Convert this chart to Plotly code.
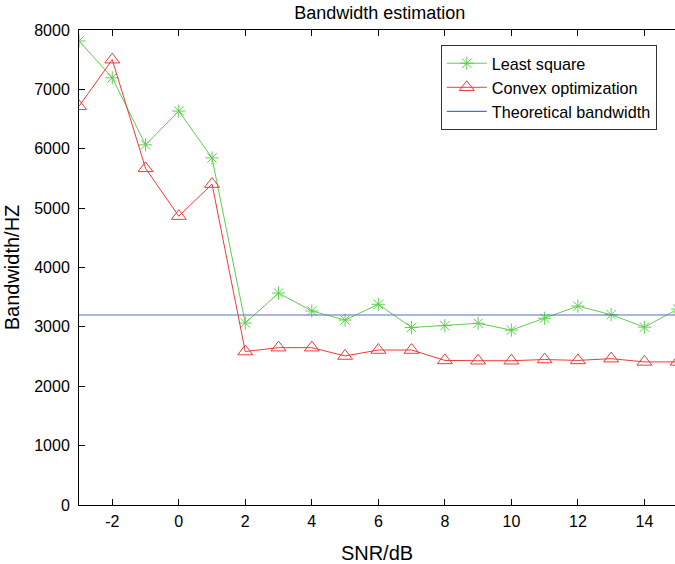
import plotly.graph_objects as go

snr = [-3, -2, -1, 0, 1, 2, 3, 4, 5, 6, 7, 8, 9, 10, 11, 12, 13, 14, 15]
least_square = [7815, 7195, 6065, 6635, 5845, 3065, 3570, 3268, 3115, 3380, 2990, 3020, 3060, 2945, 3145, 3350, 3205, 2995, 3300]
convex_opt = [6715, 7500, 5670, 4865, 5405, 2585, 2650, 2650, 2510, 2610, 2610, 2435, 2430, 2430, 2450, 2435, 2465, 2410, 2410]
theoretical = [3200] * len(snr)
x_ticks = [-2, 0, 2, 4, 6, 8, 10, 12, 14]
x_ticktext = ["-2", "0", "2", "4", "6", "8", "10", "12", "14"]
y_ticks = [0, 1000, 2000, 3000, 4000, 5000, 6000, 7000, 8000]

GREEN = "#5fcf4f"
RED = "#ee3a3a"
BLUE = "#5b6cbd"
FONT = "Liberation Sans, Arial, sans-serif"

fig = go.Figure()
fig.add_trace(go.Scatter(
    x=snr, y=least_square, mode="lines+markers", name="Least square",
    line=dict(color=GREEN, width=1),
    marker=dict(symbol="asterisk-open", size=11, color=GREEN, line=dict(color=GREEN, width=1)),
))
fig.add_trace(go.Scatter(
    x=snr, y=convex_opt, mode="lines+markers", name="Convex optimization",
    line=dict(color=RED, width=1),
    marker=dict(symbol="triangle-up-open", size=13, color=RED, line=dict(color=RED, width=1)),
))
fig.add_trace(go.Scatter(
    x=snr, y=theoretical, mode="lines", name="Theoretical bandwidth",
    line=dict(color=BLUE, width=1.2),
))

fig.update_layout(
    width=675, height=564,
    margin=dict(l=79, r=0, t=30, b=59, autoexpand=False),
    paper_bgcolor="white", plot_bgcolor="white",
    font=dict(family=FONT, size=16, color="black"),
    title=dict(text="Bandwidth estimation", x=0.5625, xanchor="center", y=0.977, yanchor="middle",
               font=dict(family=FONT, size=18, color="black")),
    showlegend=True,
    legend=dict(x=0.607, xanchor="left", y=0.968, yanchor="top",
                bordercolor="#333333", borderwidth=1, bgcolor="white",
                font=dict(family=FONT, size=16.2, color="black"),
                tracegroupgap=0, itemwidth=40),
    xaxis=dict(
        range=[-3, 14.92], tickmode="array", tickvals=x_ticks, ticktext=x_ticktext,
        ticks="inside", ticklen=6, tickcolor="black", showline=True, linecolor="black",
        linewidth=1, mirror="ticks", showgrid=False, zeroline=False, automargin=False,
        ticklabelstandoff=2,
        title=dict(text="SNR/dB", font=dict(family=FONT, size=20), standoff=16),
        tickfont=dict(family=FONT, size=16),
    ),
    yaxis=dict(
        range=[0, 8000], tickmode="array", tickvals=y_ticks,
        ticks="inside", ticklen=6, tickcolor="black", showline=True, linecolor="black",
        linewidth=1, mirror=False, showgrid=False, zeroline=False, automargin=False,
        ticklabelstandoff=5,
        title=dict(text="Bandwidth/HZ", font=dict(family=FONT, size=20), standoff=9),
        tickfont=dict(family=FONT, size=16),
    ),
)

fig.write_html("out.html", config={"displayModeBar": False},
               post_script="document.body.style.margin='0px';document.body.style.overflow='hidden';")
